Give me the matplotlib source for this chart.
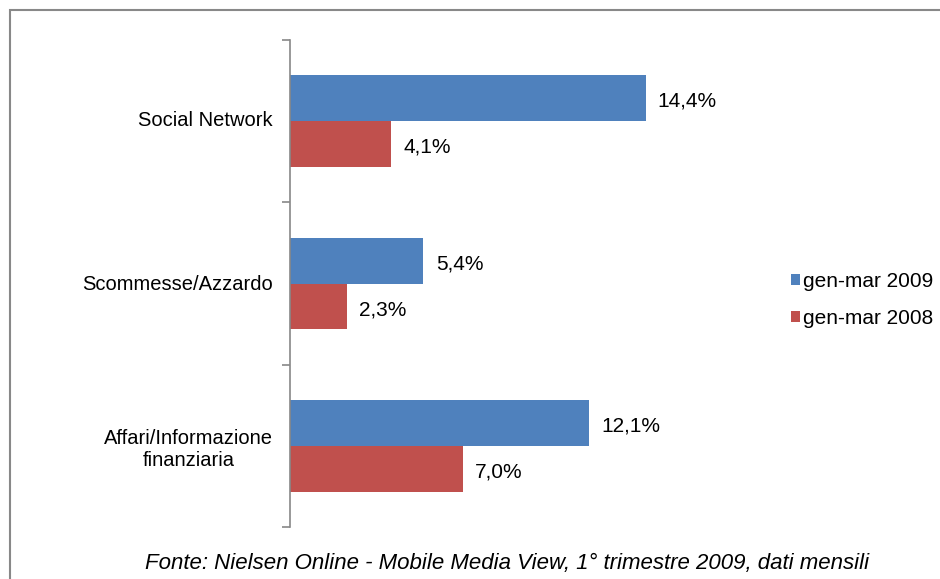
import matplotlib.pyplot as plt
from matplotlib.patches import Rectangle, Patch

plt.rcParams['font.family'] = ['Liberation Sans', 'DejaVu Sans']

categories = ["Social Network", "Scommesse/Azzardo", "Affari/Informazione\nfinanziaria"]
series_names = ["gen-mar 2009", "gen-mar 2008"]
values_2009 = [14.4, 5.4, 12.1]
values_2008 = [4.1, 2.3, 7.0]
labels_2009 = ["14,4%", "5,4%", "12,1%"]
labels_2008 = ["4,1%", "2,3%", "7,0%"]
colors = ["#4F81BD", "#C0504D"]

W, H = 940, 579
fig = plt.figure(figsize=(W / 100, H / 100), dpi=100)
fig.patch.set_facecolor("white")

# outer frame
fig.patches.append(Rectangle((10 / W, -0.1), 1.2, 1 - 10 / H + 0.1, transform=fig.transFigure,
                             fill=False, edgecolor="#888888", linewidth=1.5))

ax = fig.add_axes([290 / W, 1 - 527 / H, 395 / W, (527 - 40) / H])
ax.set_xlim(0, 16)
ax.set_ylim(2.5, -0.5)

bh = 0.283
ypos = list(range(len(categories)))
ax.barh([y - bh / 2 for y in ypos], values_2009, height=bh, color=colors[0], label=series_names[0])
ax.barh([y + bh / 2 for y in ypos], values_2008, height=bh, color=colors[1], label=series_names[1])

for y, v, t in zip(ypos, values_2009, labels_2009):
    ax.text(v + 0.5, y - bh / 2 + 0.02, t, va="center", ha="left", fontsize=15)
for y, v, t in zip(ypos, values_2008, labels_2008):
    ax.text(v + 0.5, y + bh / 2 + 0.02, t, va="center", ha="left", fontsize=15)

for s in ["top", "right", "bottom"]:
    ax.spines[s].set_visible(False)
ax.spines["left"].set_color("#888888")
ax.spines["left"].set_linewidth(1.2)
ax.set_xticks([])
ax.set_yticks([-0.5, 0.5, 1.5, 2.5])
ax.set_yticklabels([])
ax.tick_params(axis="y", length=6, color="#888888", width=1.2)

cat_y = [121, 284, 449]
for c, y in zip(categories, cat_y):
    fig.text(273 / W, 1 - y / H, c, ha="right", va="center", fontsize=14.5,
             multialignment="center")

handles = [Patch(facecolor=colors[0]), Patch(facecolor=colors[1])]
fig.legend(handles, series_names, loc="center left", bbox_to_anchor=(772 / W, 1 - 300 / H),
           frameon=False, fontsize=15, handlelength=0.45, handleheight=0.45,
           handletextpad=0.15, labelspacing=0.85)

fig.text(507 / W, 1 - 564 / H, "Fonte: Nielsen Online - Mobile Media View, 1° trimestre 2009, dati mensili",
         ha="center", va="center", fontsize=16, style="italic")

fig.savefig("out.png", dpi=100)
